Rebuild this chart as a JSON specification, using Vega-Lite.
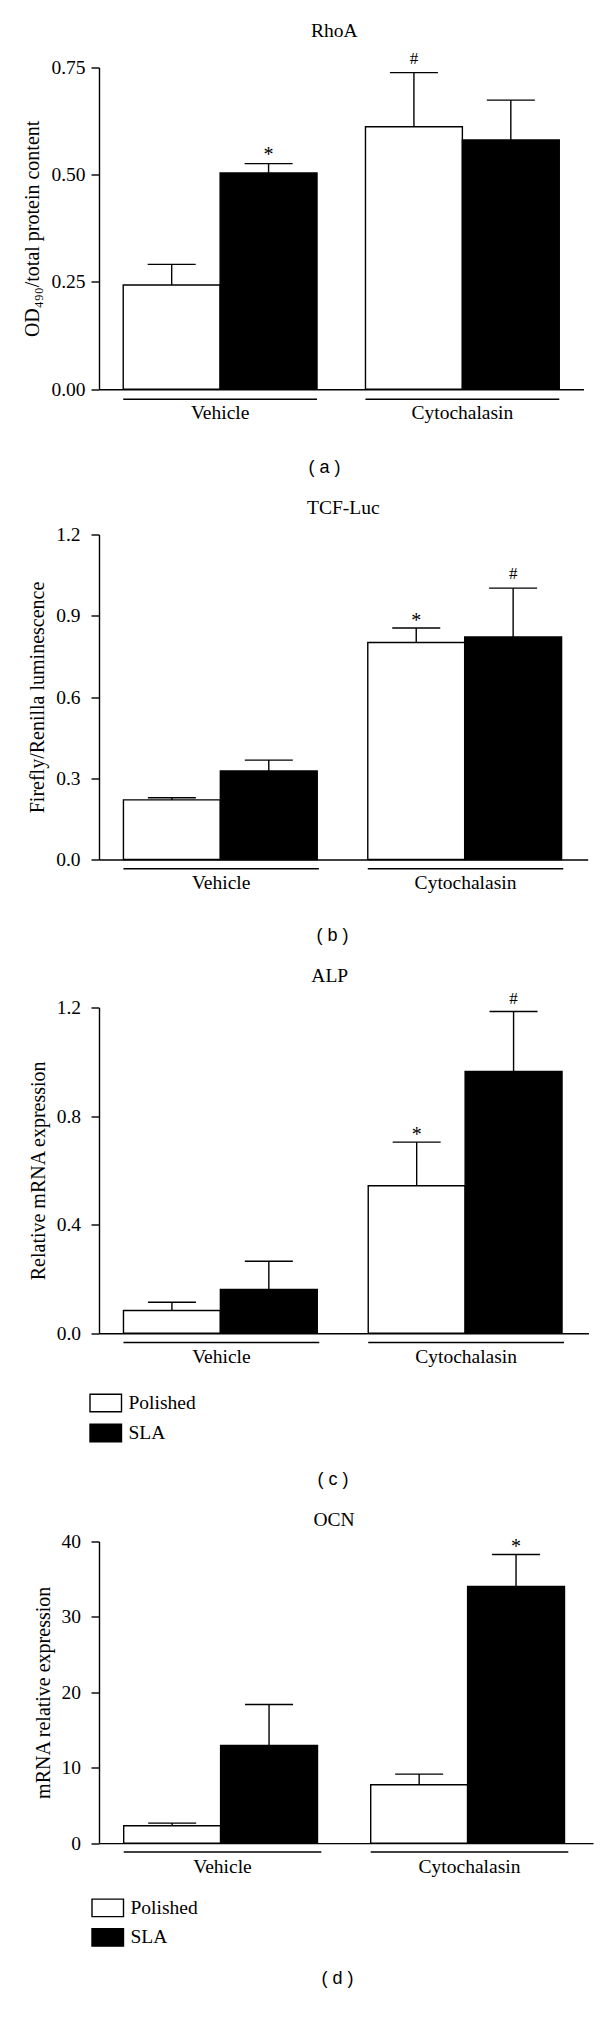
{
  "$schema": "https://vega.github.io/schema/vega-lite/v6.json",
  "background": "white",
  "padding": {"left": 22, "top": 20.5, "right": 5, "bottom": 5},
  "datasets": {
    "rhoa": [
      {"group": "Vehicle", "surface": "Polished", "mean": 0.243, "upper": 0.291, "sig": ""},
      {"group": "Vehicle", "surface": "SLA", "mean": 0.504, "upper": 0.526, "sig": "*"},
      {"group": "Cytochalasin", "surface": "Polished", "mean": 0.612, "upper": 0.738, "sig": "#"},
      {"group": "Cytochalasin", "surface": "SLA", "mean": 0.581, "upper": 0.674, "sig": ""}
    ],
    "tcf": [
      {"group": "Vehicle", "surface": "Polished", "mean": 0.220, "upper": 0.228, "sig": ""},
      {"group": "Vehicle", "surface": "SLA", "mean": 0.327, "upper": 0.367, "sig": ""},
      {"group": "Cytochalasin", "surface": "Polished", "mean": 0.801, "upper": 0.855, "sig": "*"},
      {"group": "Cytochalasin", "surface": "SLA", "mean": 0.822, "upper": 1.002, "sig": "#"}
    ],
    "alp": [
      {"group": "Vehicle", "surface": "Polished", "mean": 0.0835, "upper": 0.114, "sig": ""},
      {"group": "Vehicle", "surface": "SLA", "mean": 0.161, "upper": 0.265, "sig": ""},
      {"group": "Cytochalasin", "surface": "Polished", "mean": 0.543, "upper": 0.704, "sig": "*"},
      {"group": "Cytochalasin", "surface": "SLA", "mean": 0.964, "upper": 1.185, "sig": "#"}
    ],
    "ocn": [
      {"group": "Vehicle", "surface": "Polished", "mean": 2.30, "upper": 2.65, "sig": ""},
      {"group": "Vehicle", "surface": "SLA", "mean": 12.95, "upper": 18.39, "sig": ""},
      {"group": "Cytochalasin", "surface": "Polished", "mean": 7.73, "upper": 9.15, "sig": ""},
      {"group": "Cytochalasin", "surface": "SLA", "mean": 34.03, "upper": 38.28, "sig": "*"}
    ]
  },
  "columns": 1,
  "align": "none",
  "spacing": 21,
  "resolve": {"scale": {"fill": "independent"}, "legend": {"fill": "independent"}},
  "concat": [
    {
      "data": {"name": "rhoa"},
      "width": 484.5,
      "height": 321.7,
      "title": {"text": "RhoA", "dx": -7, "offset": 8.1},
      "encoding": {
        "x": {"field": "group", "type": "nominal", "sort": ["Vehicle", "Cytochalasin"], "scale": {"paddingInner": 0.2, "paddingOuter": 0.1},
          "axis": {"title": "( a )", "titleX": 225, "titleY": 78}}
      },
      "layer": [
        {"mark": {"type": "bar", "stroke": "black", "strokeWidth": 1.4},
         "encoding": {
           "xOffset": {"field": "surface", "type": "nominal", "sort": ["Polished", "SLA"], "scale": {"paddingInner": 0, "paddingOuter": 0}},
           "y": {"field": "mean", "type": "quantitative", "scale": {"domain": [0, 0.75], "nice": false},
             "axis": {"title": "OD₄₉₀/total protein content", "values": [0, 0.25, 0.5, 0.75], "format": ".2f", "labelPadding": 6}},
           "fill": {"field": "surface", "type": "nominal", "scale": {"domain": ["Polished", "SLA"], "range": ["white", "black"]}, "legend": null}
         }},
        {"mark": {"type": "rule", "color": "black", "strokeWidth": 1.4},
         "encoding": {"xOffset": {"field": "surface", "type": "nominal", "sort": ["Polished", "SLA"]}, "y": {"field": "mean", "type": "quantitative"}, "y2": {"field": "upper"}}},
        {"mark": {"type": "tick", "color": "black", "thickness": 1.4, "size": 48, "opacity": 1},
         "encoding": {"xOffset": {"field": "surface", "type": "nominal", "sort": ["Polished", "SLA"]}, "y": {"field": "upper", "type": "quantitative"}}},
        {"transform": [{"filter": "datum.sig === '*'"}],
         "mark": {"type": "text", "font": "Liberation Serif", "fontSize": 20, "color": "black", "baseline": "alphabetic", "dy": -3},
         "encoding": {"xOffset": {"field": "surface", "type": "nominal", "sort": ["Polished", "SLA"]}, "y": {"field": "upper", "type": "quantitative"}, "text": {"field": "sig"}}},
        {"transform": [{"filter": "datum.sig === '#'"}],
         "mark": {"type": "text", "font": "Liberation Serif", "fontSize": 17, "color": "black", "baseline": "alphabetic", "dy": -9},
         "encoding": {"xOffset": {"field": "surface", "type": "nominal", "sort": ["Polished", "SLA"]}, "y": {"field": "upper", "type": "quantitative"}, "text": {"field": "sig"}}},
        {"transform": [{"filter": "datum.surface === 'Polished'"}],
         "mark": {"type": "rule", "color": "black", "strokeWidth": 1.4},
         "encoding": {"x": {"field": "group", "type": "nominal", "sort": ["Vehicle", "Cytochalasin"], "bandPosition": 0}, "x2": {"field": "group", "bandPosition": 1}, "y": {"datum": -0.0233}}}
      ]
    },
    {
      "data": {"name": "tcf"},
      "width": 488.7,
      "height": 325,
      "title": {"text": "TCF-Luc", "dx": 0, "offset": 5.6},
      "encoding": {
        "x": {"field": "group", "type": "nominal", "sort": ["Vehicle", "Cytochalasin"], "scale": {"paddingInner": 0.2, "paddingOuter": 0.1},
          "axis": {"title": "( b )", "titleX": 233, "titleY": 75.5}}
      },
      "layer": [
        {"mark": {"type": "bar", "stroke": "black", "strokeWidth": 1.4},
         "encoding": {
           "xOffset": {"field": "surface", "type": "nominal", "sort": ["Polished", "SLA"], "scale": {"paddingInner": 0, "paddingOuter": 0}},
           "y": {"field": "mean", "type": "quantitative", "scale": {"domain": [0, 1.2], "nice": false},
             "axis": {"title": "Firefly/Renilla luminescence", "values": [0, 0.3, 0.6, 0.9, 1.2], "format": ".1f", "labelPadding": 11}},
           "fill": {"field": "surface", "type": "nominal", "scale": {"domain": ["Polished", "SLA"], "range": ["white", "black"]}, "legend": null}
         }},
        {"mark": {"type": "rule", "color": "black", "strokeWidth": 1.4},
         "encoding": {"xOffset": {"field": "surface", "type": "nominal", "sort": ["Polished", "SLA"]}, "y": {"field": "mean", "type": "quantitative"}, "y2": {"field": "upper"}}},
        {"mark": {"type": "tick", "color": "black", "thickness": 1.4, "size": 48, "opacity": 1},
         "encoding": {"xOffset": {"field": "surface", "type": "nominal", "sort": ["Polished", "SLA"]}, "y": {"field": "upper", "type": "quantitative"}}},
        {"transform": [{"filter": "datum.sig === '*'"}],
         "mark": {"type": "text", "font": "Liberation Serif", "fontSize": 20, "color": "black", "baseline": "alphabetic", "dy": -1},
         "encoding": {"xOffset": {"field": "surface", "type": "nominal", "sort": ["Polished", "SLA"]}, "y": {"field": "upper", "type": "quantitative"}, "text": {"field": "sig"}}},
        {"transform": [{"filter": "datum.sig === '#'"}],
         "mark": {"type": "text", "font": "Liberation Serif", "fontSize": 17, "color": "black", "baseline": "alphabetic", "dy": -9},
         "encoding": {"xOffset": {"field": "surface", "type": "nominal", "sort": ["Polished", "SLA"]}, "y": {"field": "upper", "type": "quantitative"}, "text": {"field": "sig"}}},
        {"transform": [{"filter": "datum.surface === 'Polished'"}],
         "mark": {"type": "rule", "color": "black", "strokeWidth": 1.4},
         "encoding": {"x": {"field": "group", "type": "nominal", "sort": ["Vehicle", "Cytochalasin"], "bandPosition": 0}, "x2": {"field": "group", "bandPosition": 1}, "y": {"datum": -0.0343}}}
      ]
    },
    {
      "data": {"name": "alp"},
      "width": 489.5,
      "height": 325.7,
      "title": {"text": "ALP", "dx": -14, "offset": 3.3},
      "encoding": {
        "x": {"field": "group", "type": "nominal", "sort": ["Vehicle", "Cytochalasin"], "scale": {"paddingInner": 0.2, "paddingOuter": 0.1},
          "axis": {"title": "( c )", "titleX": 233.5, "titleY": 146}}
      },
      "layer": [
        {"mark": {"type": "bar", "stroke": "black", "strokeWidth": 1.4},
         "encoding": {
           "xOffset": {"field": "surface", "type": "nominal", "sort": ["Polished", "SLA"], "scale": {"paddingInner": 0, "paddingOuter": 0}},
           "y": {"field": "mean", "type": "quantitative", "scale": {"domain": [0, 1.2], "nice": false},
             "axis": {"title": "Relative mRNA expression", "values": [0, 0.4, 0.8, 1.2], "format": ".1f", "labelPadding": 10.4}},
           "fill": {"field": "surface", "type": "nominal", "scale": {"domain": ["Polished", "SLA"], "range": ["white", "black"]},
             "legend": {"orient": "none", "legendX": -3, "legendY": 385.7, "title": null, "direction": "vertical", "padding": 0,
               "symbolType": "M-1.8,-1H1.8V1H-1.8Z", "symbolSize": 306, "symbolStrokeColor": "black", "symbolStrokeWidth": 1.4,
               "labelFont": "Liberation Serif", "labelFontSize": 19.5, "labelColor": "black", "labelOffset": 13, "rowPadding": 6}}
         }},
        {"mark": {"type": "rule", "color": "black", "strokeWidth": 1.4},
         "encoding": {"xOffset": {"field": "surface", "type": "nominal", "sort": ["Polished", "SLA"]}, "y": {"field": "mean", "type": "quantitative"}, "y2": {"field": "upper"}}},
        {"mark": {"type": "tick", "color": "black", "thickness": 1.4, "size": 48, "opacity": 1},
         "encoding": {"xOffset": {"field": "surface", "type": "nominal", "sort": ["Polished", "SLA"]}, "y": {"field": "upper", "type": "quantitative"}}},
        {"transform": [{"filter": "datum.sig === '*'"}],
         "mark": {"type": "text", "font": "Liberation Serif", "fontSize": 20, "color": "black", "baseline": "alphabetic", "dy": -1},
         "encoding": {"xOffset": {"field": "surface", "type": "nominal", "sort": ["Polished", "SLA"]}, "y": {"field": "upper", "type": "quantitative"}, "text": {"field": "sig"}}},
        {"transform": [{"filter": "datum.sig === '#'"}],
         "mark": {"type": "text", "font": "Liberation Serif", "fontSize": 17, "color": "black", "baseline": "alphabetic", "dy": -8},
         "encoding": {"xOffset": {"field": "surface", "type": "nominal", "sort": ["Polished", "SLA"]}, "y": {"field": "upper", "type": "quantitative"}, "text": {"field": "sig"}}},
        {"transform": [{"filter": "datum.surface === 'Polished'"}],
         "mark": {"type": "rule", "color": "black", "strokeWidth": 1.4},
         "encoding": {"x": {"field": "group", "type": "nominal", "sort": ["Vehicle", "Cytochalasin"], "bandPosition": 0}, "x2": {"field": "group", "bandPosition": 1}, "y": {"datum": -0.0343}}}
      ]
    },
    {
      "data": {"name": "ocn"},
      "width": 494,
      "height": 301.6,
      "title": {"text": "OCN", "dx": -12, "offset": 1},
      "encoding": {
        "x": {"field": "group", "type": "nominal", "sort": ["Vehicle", "Cytochalasin"], "scale": {"paddingInner": 0.2, "paddingOuter": 0.1},
          "axis": {"title": "( d )", "titleX": 238, "titleY": 135}}
      },
      "layer": [
        {"mark": {"type": "bar", "stroke": "black", "strokeWidth": 1.4},
         "encoding": {
           "xOffset": {"field": "surface", "type": "nominal", "sort": ["Polished", "SLA"], "scale": {"paddingInner": 0, "paddingOuter": 0}},
           "y": {"field": "mean", "type": "quantitative", "scale": {"domain": [0, 40], "nice": false},
             "axis": {"title": "mRNA relative expression", "values": [0, 10, 20, 30, 40], "format": "d", "labelPadding": 10.5}},
           "fill": {"field": "surface", "type": "nominal", "scale": {"domain": ["Polished", "SLA"], "range": ["white", "black"]},
             "legend": {"orient": "none", "legendX": -1, "legendY": 356.6, "title": null, "direction": "vertical", "padding": 0,
               "symbolType": "M-1.8,-1H1.8V1H-1.8Z", "symbolSize": 306, "symbolStrokeColor": "black", "symbolStrokeWidth": 1.4,
               "labelFont": "Liberation Serif", "labelFontSize": 19.5, "labelColor": "black", "labelOffset": 13, "rowPadding": 5.5}}
         }},
        {"mark": {"type": "rule", "color": "black", "strokeWidth": 1.4},
         "encoding": {"xOffset": {"field": "surface", "type": "nominal", "sort": ["Polished", "SLA"]}, "y": {"field": "mean", "type": "quantitative"}, "y2": {"field": "upper"}}},
        {"mark": {"type": "tick", "color": "black", "thickness": 1.4, "size": 48, "opacity": 1},
         "encoding": {"xOffset": {"field": "surface", "type": "nominal", "sort": ["Polished", "SLA"]}, "y": {"field": "upper", "type": "quantitative"}}},
        {"transform": [{"filter": "datum.sig === '*'"}],
         "mark": {"type": "text", "font": "Liberation Serif", "fontSize": 20, "color": "black", "baseline": "alphabetic", "dy": -1},
         "encoding": {"xOffset": {"field": "surface", "type": "nominal", "sort": ["Polished", "SLA"]}, "y": {"field": "upper", "type": "quantitative"}, "text": {"field": "sig"}}},
        {"transform": [{"filter": "datum.surface === 'Polished'"}],
         "mark": {"type": "rule", "color": "black", "strokeWidth": 1.4},
         "encoding": {"x": {"field": "group", "type": "nominal", "sort": ["Vehicle", "Cytochalasin"], "bandPosition": 0}, "x2": {"field": "group", "bandPosition": 1}, "y": {"datum": -1.18}}}
      ]
    }
  ],
  "config": {
    "view": {"stroke": null},
    "font": "Liberation Serif",
    "axis": {"grid": false, "domainColor": "black", "domainWidth": 1.4, "tickColor": "black", "tickWidth": 1.4,
      "labelColor": "black", "titleColor": "black", "labelFont": "Liberation Serif", "labelFontSize": 19.5,
      "titleFont": "Liberation Serif", "titleFontSize": 20, "titleFontWeight": "normal"},
    "axisY": {"tickSize": 8, "titlePadding": 8},
    "axisX": {"ticks": false, "labelAngle": 0, "labelPadding": 14, "titleFont": "Liberation Sans", "titleFontSize": 18,
      "titleBaseline": "middle", "titleAlign": "center"},
    "title": {"font": "Liberation Serif", "fontSize": 19.5, "fontWeight": "normal", "color": "black", "frame": "group"}
  }
}
